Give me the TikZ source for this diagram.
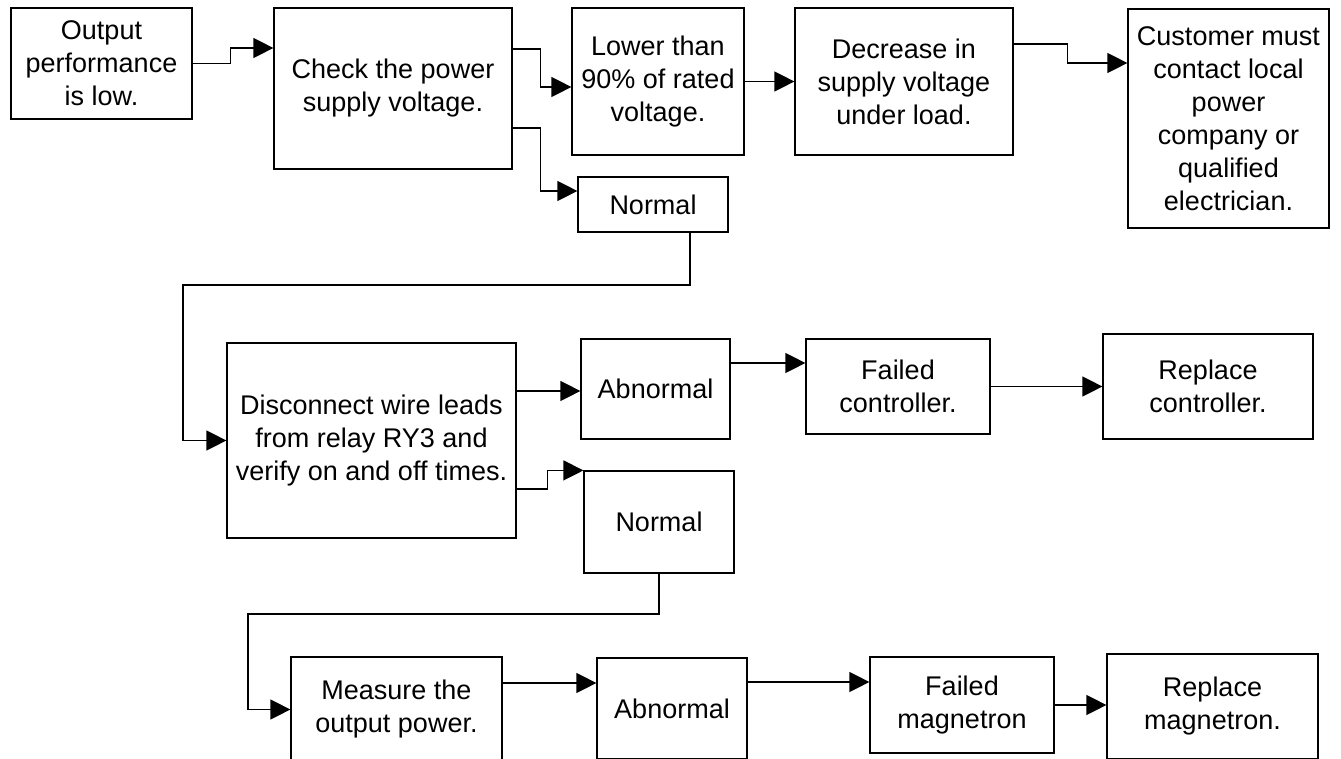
\documentclass[tikz,border=0pt]{standalone}
\usepackage{fontspec}
\setmainfont{Liberation Sans}
\usetikzlibrary{arrows.meta}
\begin{document}
\begin{tikzpicture}[x=1pt, y=-1pt,
    box/.style={draw, line width=1.2pt, align=center, inner sep=0pt, font=\fontsize{27}{33}\selectfont},
    arr/.style={line width=1.2pt, -{Triangle[length=20pt,width=20pt]}}]
  \useasboundingbox (0,0) rectangle (1341,759);

  \node[box, minimum width=181pt, minimum height=111pt] (nOut) at (101.5,63.5) {Output\\performance\\is low.};
  \node[box, minimum width=238pt, minimum height=161pt] (nCheck) at (393,88.5) {Check the power\\supply voltage.};
  \node[box, minimum width=172pt, minimum height=147pt] (nLow) at (658,81.5) {Lower than\\90\% of rated\\voltage.};
  \node[box, minimum width=218pt, minimum height=147pt] (nDec) at (904,81.5) {Decrease in\\supply voltage\\under load.};
  \node[box, minimum width=201pt, minimum height=219pt] (nCust) at (1228.5,118.5) {Customer must\\contact local\\power\\company or\\qualified\\electrician.};
  \node[box, minimum width=150pt, minimum height=55pt] (nNormA) at (653,204.5) {Normal};

  \node[box, minimum width=289pt, minimum height=195pt] (nDisc) at (371.5,440.5) {Disconnect wire leads\\from relay RY3 and\\verify on and off times.};
  \node[box, minimum width=149pt, minimum height=100pt] (nAbnA) at (655.5,389) {Abnormal};
  \node[box, minimum width=184pt, minimum height=95pt] (nFailC) at (898,386.5) {Failed\\controller.};
  \node[box, minimum width=210pt, minimum height=105pt] (nRepC) at (1208,386.5) {Replace\\controller.};
  \node[box, minimum width=150pt, minimum height=102pt] (nNormB) at (659,522) {Normal};

  \node[box, minimum width=211pt, minimum height=105pt] (nMeas) at (396.5,709.5) {Measure the\\output power.};
  \node[box, minimum width=150pt, minimum height=101pt] (nAbnB) at (672,708.5) {Abnormal};
  \node[box, minimum width=184pt, minimum height=96pt] (nFailM) at (962,705) {Failed\\magnetron};
  \node[box, minimum width=211pt, minimum height=105pt] (nRepM) at (1212.5,706.5) {Replace\\magnetron.};

  \draw[arr] (nOut.east) -- ++(38,0) |- (nCheck.west |- 0,48);
  \draw[arr] (nCheck.east |- 0,49) -- ++(28,0) |- (nLow.west |- 0,87);
  \draw[arr] (nCheck.east |- 0,128) -- ++(28,0) |- (nNormA.west |- 0,191);
  \draw[arr] (nLow.east) -- (nDec.west);
  \draw[arr] (nDec.east |- 0,44) -- ++(54,0) |- (nCust.west |- 0,63);

  \draw[arr] (nNormA.south -| 690,0) |- (183,285) |- (nDisc.west);
  \draw[arr] (nDisc.east |- 0,391) -- (nAbnA.west |- 0,391);
  \draw[arr] (nDisc.east |- 0,489) -- ++(31,0) |- (nNormB.north west);
  \draw[arr] (nAbnA.east |- 0,363) -- (nFailC.west |- 0,363);
  \draw[arr] (nFailC.east) -- (nRepC.west |- nFailC.east);

  \draw[arr] (nNormB.south) |- (248,614) |- (nMeas.west);
  \draw[arr] (nMeas.east |- 0,683) -- (nAbnB.west |- 0,683);
  \draw[arr] (nAbnB.east |- 0,682) -- (nFailM.west |- 0,682);
  \draw[arr] (nFailM.east) -- (nRepM.west |- nFailM.east);
\end{tikzpicture}
\end{document}
